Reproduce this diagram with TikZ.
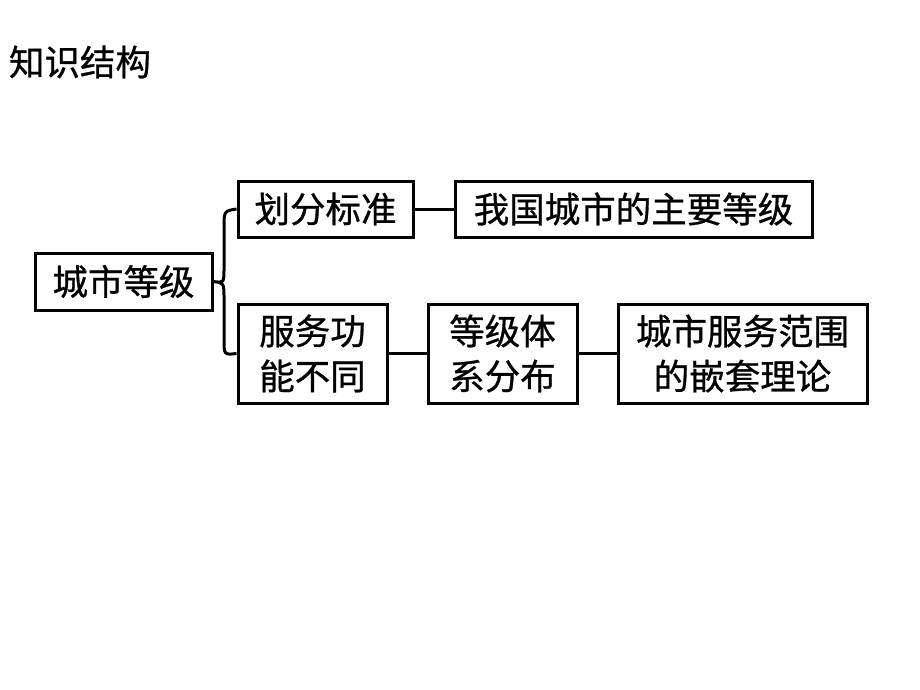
\documentclass[tikz,border=0pt]{standalone}
\usepackage{fontspec}
\newfontfamily\cjk[FakeBold=0.8]{Noto Sans CJK SC}
\begin{document}
\begin{tikzpicture}[x=1pt,y=-1pt,
  box/.style={draw=black,line width=3pt,inner sep=0pt,align=center,
    font=\cjk\fontsize{35.5}{45}\selectfont},
  conn/.style={line width=3pt}]
\useasboundingbox (0,0) rectangle (920,690);
\node[font=\cjk\fontsize{35.5}{40}\selectfont,anchor=center] (title) at (80,62) {知识结构};
\node[box,minimum width=177pt,minimum height=57pt] (root) at (123.5,281.5) {城市等级};
\node[box,minimum width=175pt,minimum height=56pt] (hf) at (325.5,209) {划分标准};
\node[box,minimum width=357pt,minimum height=56pt] (wg) at (633.5,209) {我国城市的主要等级};
\node[box,minimum width=149pt,minimum height=99pt] (fw) at (312.5,353.5) {服务功\\能不同};
\node[box,minimum width=149pt,minimum height=99pt] (dj) at (502.5,353.5) {等级体\\系分布};
\node[box,minimum width=249pt,minimum height=99pt] (cs) at (742.5,353.5) {城市服务范围\\的嵌套理论};
\draw[conn] (hf.east) -- (wg.west);
\draw[conn] (fw.east) -- (dj.west);
\draw[conn] (dj.east) -- (cs.west);
\draw[conn] (hf.west) .. controls (224,211) .. (224,228) -- (224,268)
  .. controls (224,283) .. (root.east)
  .. controls (224,283) .. (224,298) -- (224,338)
  .. controls (224,355) .. (fw.west);
\end{tikzpicture}
\end{document}
